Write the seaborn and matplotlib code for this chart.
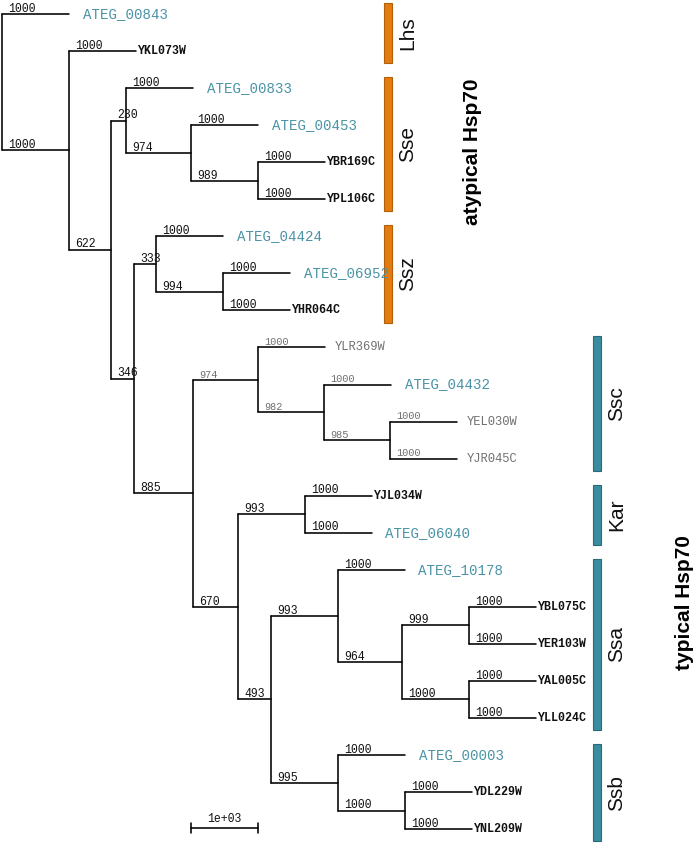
import matplotlib
matplotlib.use("Agg")
import matplotlib.pyplot as plt
import seaborn as sns
import pandas as pd

# ---------------- data ----------------
edge_parent = ["root", "root", "A", "A", "B", "C", "C", "D", "D", "E", "E",
               "B", "G", "F", "F", "I", "I", "G", "H", "J", "J", "K", "K", "L", "L",
               "H", "M", "N", "N", "M", "O", "P", "P", "Q", "R", "R", "Q", "S", "S",
               "O", "T", "T", "U", "U"]
edge_child = ["ATEG_00843", "A", "YKL073W", "B", "C", "ATEG_00833", "D", "ATEG_00453", "E",
              "YBR169C", "YPL106C", "G", "F", "ATEG_04424", "I", "ATEG_06952", "YHR064C",
              "H", "J", "YLR369W", "K", "ATEG_04432", "L", "YEL030W", "YJR045C",
              "M", "N", "YJL034W", "ATEG_06040", "O", "P", "ATEG_10178", "Q", "R",
              "YBL075C", "YER103W", "S", "YAL005C", "YLL024C", "T", "ATEG_00003", "U",
              "YDL229W", "YNL209W"]
edge_support = [1000, 1000, 1000, 622, 230, 1000, 974, 1000, 989, 1000, 1000,
                346, 333, 1000, 994, 1000, 1000, 885, 974, 1000, 982, 1000, 985, 1000, 1000,
                670, 993, 1000, 1000, 493, 993, 1000, 964, 999, 1000, 1000, 1000, 1000, 1000,
                995, 1000, 1000, 1000, 1000]

grey_clade_root = "J"          # Ssc clade drawn in grey text
clade_names = ["Lhs", "Sse", "Ssz", "Ssc", "Kar", "Ssa", "Ssb"]
clade_first_tip = ["ATEG_00843", "ATEG_00833", "ATEG_04424", "YLR369W", "YJL034W", "ATEG_10178", "ATEG_00003"]
clade_last_tip = ["YKL073W", "YPL106C", "YHR064C", "YJR045C", "ATEG_06040", "YLL024C", "YNL209W"]
clade_group = ["atypical", "atypical", "atypical", "typical", "typical", "typical", "typical"]
group_labels = ["atypical Hsp70", "typical Hsp70"]
scale_value = 1000
scale_label = "1e+03"

# ---------------- layout ----------------
children = {}
length = {}
for p, c, s in zip(edge_parent, edge_child, edge_support):
    children.setdefault(p, []).append(c)
    length[c] = s

xpos, ypos, tip_order = {}, {}, []

def layout(node, x):
    xpos[node] = x
    if node not in children:
        ypos[node] = len(tip_order)
        tip_order.append(node)
        return
    for c in children[node]:
        layout(c, x + length[c])
    kids = children[node]
    ypos[node] = (ypos[kids[0]] + ypos[kids[-1]]) / 2.0

layout("root", 0)

def descendants(node):
    out = {node}
    for c in children.get(node, []):
        out |= descendants(c)
    return out

grey_nodes = descendants(grey_clade_root)

rows = []
seg = 0
for p, c in zip(edge_parent, edge_child):
    rows.append((seg, xpos[p], ypos[c])); rows.append((seg, xpos[c], ypos[c])); seg += 1
for n, kids in children.items():
    rows.append((seg, xpos[n], ypos[kids[0]])); rows.append((seg, xpos[n], ypos[kids[-1]])); seg += 1
segs = pd.DataFrame(rows, columns=["seg", "x", "y"])

# ---------------- figure ----------------
sns.set_style("white")
W, H = 696, 844
fig = plt.figure(figsize=(W / 100, H / 100), dpi=100)
ax = fig.add_axes([0, 0, 1, 1])

PXU = 0.067        # pixels per branch unit
X0 = 2             # pixel of root
TIP0, DY = 14, 37.05

def ux(px):
    return (px - X0) / PXU

def uy(py):
    return (py - TIP0) / DY

def frame():
    ax.set_xlim(-X0 / PXU, (W - X0) / PXU)
    ax.set_ylim((H - TIP0) / DY, -TIP0 / DY)
    ax.axis("off")

sns.lineplot(data=segs, x="x", y="y", units="seg", estimator=None, sort=False,
             color="black", lw=1.15, ax=ax, legend=False)
frame()

MONO = "Liberation Mono"
SANS = "Liberation Sans"
TEAL_TXT = "#4a93a6"
GREY_TXT = "#707070"

# support values
for p, c, s in zip(edge_parent, edge_child, edge_support):
    grey = c in grey_nodes
    ax.annotate(str(s), xy=(xpos[p], ypos[c]), xytext=(4.5, 1.6), textcoords="offset points",
                ha="left", va="baseline", family=MONO,
                fontsize=7.4 if grey else 8.3,
                color=GREY_TXT if grey else "#111111")

# tip labels
for t in tip_order:
    if t.startswith("ATEG"):
        kw = dict(color=TEAL_TXT, fontsize=10.2, xytext=(10, 0))
    elif t in grey_nodes:
        kw = dict(color=GREY_TXT, fontsize=8.7, xytext=(7, 0))
    else:
        kw = dict(color="#111111", fontsize=8.4, xytext=(0.8, 0), fontweight="bold")
    ax.annotate(t, xy=(xpos[t], ypos[t]), textcoords="offset points",
                ha="left", va="center", family=MONO, **kw)

# clade bars
bar_style = {"atypical": dict(x=ux(388), color="#e27c12", edge="#b45f07"),
             "typical": dict(x=ux(597), color="#3a8c9f", edge="#2a6a79")}
for name, a, b, g in zip(clade_names, clade_first_tip, clade_last_tip, clade_group):
    st = bar_style[g]
    lo = ypos[a] - 0.3
    hi = ypos[b] + 0.33
    ax.bar(st["x"], hi - lo, bottom=lo, width=8 / PXU, color=st["color"],
           edgecolor=st["edge"], linewidth=0.8)
    ax.text(st["x"] + 20 / PXU, (lo + hi) / 2, name, rotation=90, ha="center", va="center",
            family=SANS, fontsize=15, color="#111111")

ax.text(ux(472), uy(152), group_labels[0], rotation=90, ha="center", va="center",
        family=SANS, fontsize=15, fontweight="bold", color="black")
ax.text(ux(684), uy(603), group_labels[1], rotation=90, ha="center", va="center",
        family=SANS, fontsize=15, fontweight="bold", color="black")

# scale bar
sb_x0 = ux(191)
sb_y = uy(828)
tick = 5 / DY
sb = pd.DataFrame({"seg": [0, 0, 1, 1, 2, 2],
                   "x": [sb_x0, sb_x0 + scale_value, sb_x0, sb_x0, sb_x0 + scale_value, sb_x0 + scale_value],
                   "y": [sb_y, sb_y, sb_y - tick, sb_y + tick, sb_y - tick, sb_y + tick]})
sns.lineplot(data=sb, x="x", y="y", units="seg", estimator=None, sort=False,
             color="black", lw=1.15, ax=ax, legend=False)
ax.annotate(scale_label, xy=(sb_x0 + scale_value / 2, sb_y), xytext=(0, 2.5),
            textcoords="offset points", ha="center", va="bottom", family=MONO,
            fontsize=8.3, color="#111111")
frame()

fig.savefig("out.png", dpi=100, facecolor="white")
